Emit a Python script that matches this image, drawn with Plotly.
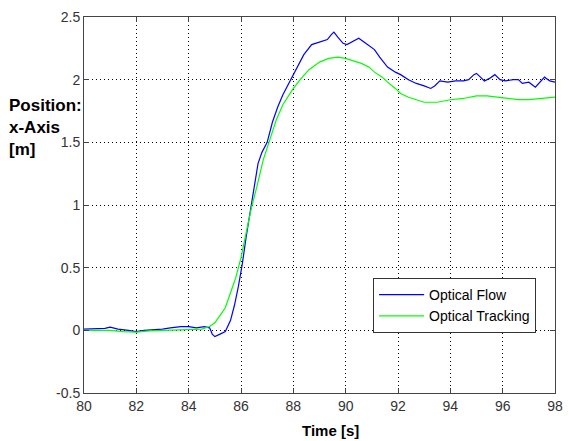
import plotly.graph_objects as go

flow_t = [80.0, 80.5, 80.8, 81.0, 81.3, 81.7, 82.0, 82.3, 82.7, 83.0, 83.3, 83.7, 84.0, 84.3, 84.6, 84.8,
          84.9, 85.0, 85.2, 85.4, 85.6, 85.75, 85.9, 86.05, 86.2, 86.35, 86.5, 86.65, 86.8, 87.0, 87.2,
          87.4, 87.6, 87.85, 88.1, 88.4, 88.7, 89.0, 89.3, 89.45, 89.55, 89.7, 89.9, 90.05, 90.3, 90.5,
          90.7, 90.9, 91.1, 91.3, 91.6, 91.9, 92.1, 92.4, 92.7, 93.0, 93.25, 93.4, 93.6, 93.9, 94.2,
          94.5, 94.7, 94.9, 95.0, 95.15, 95.3, 95.5, 95.7, 95.9, 96.1, 96.4, 96.6, 96.75, 97.0, 97.25,
          97.45, 97.6, 97.8, 98.0]
flow_x = [0.01, 0.01, 0.015, 0.025, 0.01, 0.0, -0.01, 0.0, 0.005, 0.01, 0.02, 0.03, 0.03, 0.02, 0.03, 0.02,
          -0.03, -0.05, -0.03, -0.01, 0.08, 0.2, 0.35, 0.53, 0.75, 0.95, 1.15, 1.33, 1.42, 1.5, 1.66,
          1.78, 1.88, 1.98, 2.08, 2.2, 2.28, 2.3, 2.32, 2.36, 2.38, 2.34, 2.29, 2.28, 2.31, 2.33,
          2.3, 2.27, 2.24, 2.18, 2.1, 2.06, 2.04, 2.0, 1.97, 1.95, 1.93, 1.95, 1.99, 1.98, 1.99,
          1.99, 2.0, 2.04, 2.05, 2.02, 1.99, 2.01, 2.04, 2.0, 1.99, 2.0, 2.0, 1.97, 1.98, 1.94,
          1.99, 2.02, 1.99, 1.98]

track_t = [80.0, 80.5, 81.0, 81.5, 82.0, 82.5, 83.0, 83.5, 84.0, 84.5, 84.8, 85.0, 85.2, 85.4, 85.6,
           85.8, 86.0, 86.2, 86.4, 86.6, 86.85, 87.1, 87.35, 87.6, 87.8, 88.0, 88.3, 88.6, 89.0, 89.35,
           89.7, 90.0, 90.3, 90.6, 90.9, 91.1, 91.4, 91.6, 91.9, 92.1, 92.4, 92.7, 93.0, 93.5, 94.0,
           94.5, 95.0, 95.4, 95.8, 96.2, 96.6, 97.0, 97.5, 98.0]
track_x = [0.0, 0.0, 0.0, -0.01, -0.015, -0.005, 0.0, 0.0, 0.005, 0.01, 0.03, 0.06, 0.12, 0.18, 0.3,
           0.42, 0.58, 0.78, 0.98, 1.14, 1.36, 1.52, 1.68, 1.8, 1.87, 1.93, 2.01, 2.08, 2.14, 2.17,
           2.18, 2.17, 2.15, 2.13, 2.1, 2.06, 2.02, 1.98, 1.93, 1.89, 1.86, 1.84, 1.82, 1.82, 1.84,
           1.85, 1.87, 1.87, 1.86, 1.85, 1.84, 1.84, 1.85, 1.86]

x_ticks = [80, 82, 84, 86, 88, 90, 92, 94, 96, 98]
y_ticks = [-0.5, 0, 0.5, 1, 1.5, 2, 2.5]
y_tick_text = ["-0.5", "0", "0.5", "1", "1.5", "2", "2.5"]

fig = go.Figure()
fig.add_trace(go.Scatter(x=flow_t, y=flow_x, mode="lines", name="Optical Flow",
                         line=dict(color="#0000FF", width=1.2)))
fig.add_trace(go.Scatter(x=track_t, y=track_x, mode="lines", name="Optical Tracking",
                         line=dict(color="#00FF00", width=1.2)))

axis_common = dict(showline=True, linecolor="#444444", linewidth=1, mirror="ticks",
                   ticks="inside", ticklen=5, tickcolor="#444444",
                   showgrid=True, gridcolor="#000000", griddash="1px,3px", gridwidth=1,
                   zeroline=False, ticklabeloverflow="allow",
                   tickfont=dict(family="Liberation Sans, Arial", size=14, color="#333333"))

fig.update_xaxes(range=[80, 98], tickvals=x_ticks, ticktext=[str(v) for v in x_ticks], **axis_common)
fig.update_yaxes(range=[-0.5, 2.5], tickvals=y_ticks, ticktext=y_tick_text, **axis_common)

fig.update_layout(
    width=569, height=441,
    margin=dict(l=84, r=6, t=17, b=48),
    paper_bgcolor="white", plot_bgcolor="white",
    font=dict(family="Liberation Sans, Arial", size=14, color="#000000"),
    showlegend=True,
    legend=dict(x=(378 - 84) / 479, y=(393 - 278) / 376, xanchor="left", yanchor="top",
                bgcolor="white", bordercolor="#333333", borderwidth=1,
                font=dict(family="Liberation Sans, Arial", size=14, color="#000000"),
                tracegroupgap=0, itemwidth=45, entrywidth=186),
    annotations=[
        dict(text="<b>Position:<br>x-Axis<br>[m]</b>", xref="paper", yref="paper",
             x=-78 / 479, y=(393 - 94) / 376, xanchor="left", yanchor="top", align="left",
             showarrow=False, font=dict(family="Liberation Sans, Arial", size=17, color="#000000")),
        dict(text="<b>Time [s]</b>", xref="paper", yref="paper",
             x=(335 - 84) / 479, y=-(420 - 393) / 376, xanchor="center", yanchor="top",
             showarrow=False, font=dict(family="Liberation Sans, Arial", size=15, color="#000000")),
    ],
)

fig.write_html("out.html", config={"displayModeBar": False},
               post_script="document.body.style.margin='0';document.body.style.overflow='hidden';")
